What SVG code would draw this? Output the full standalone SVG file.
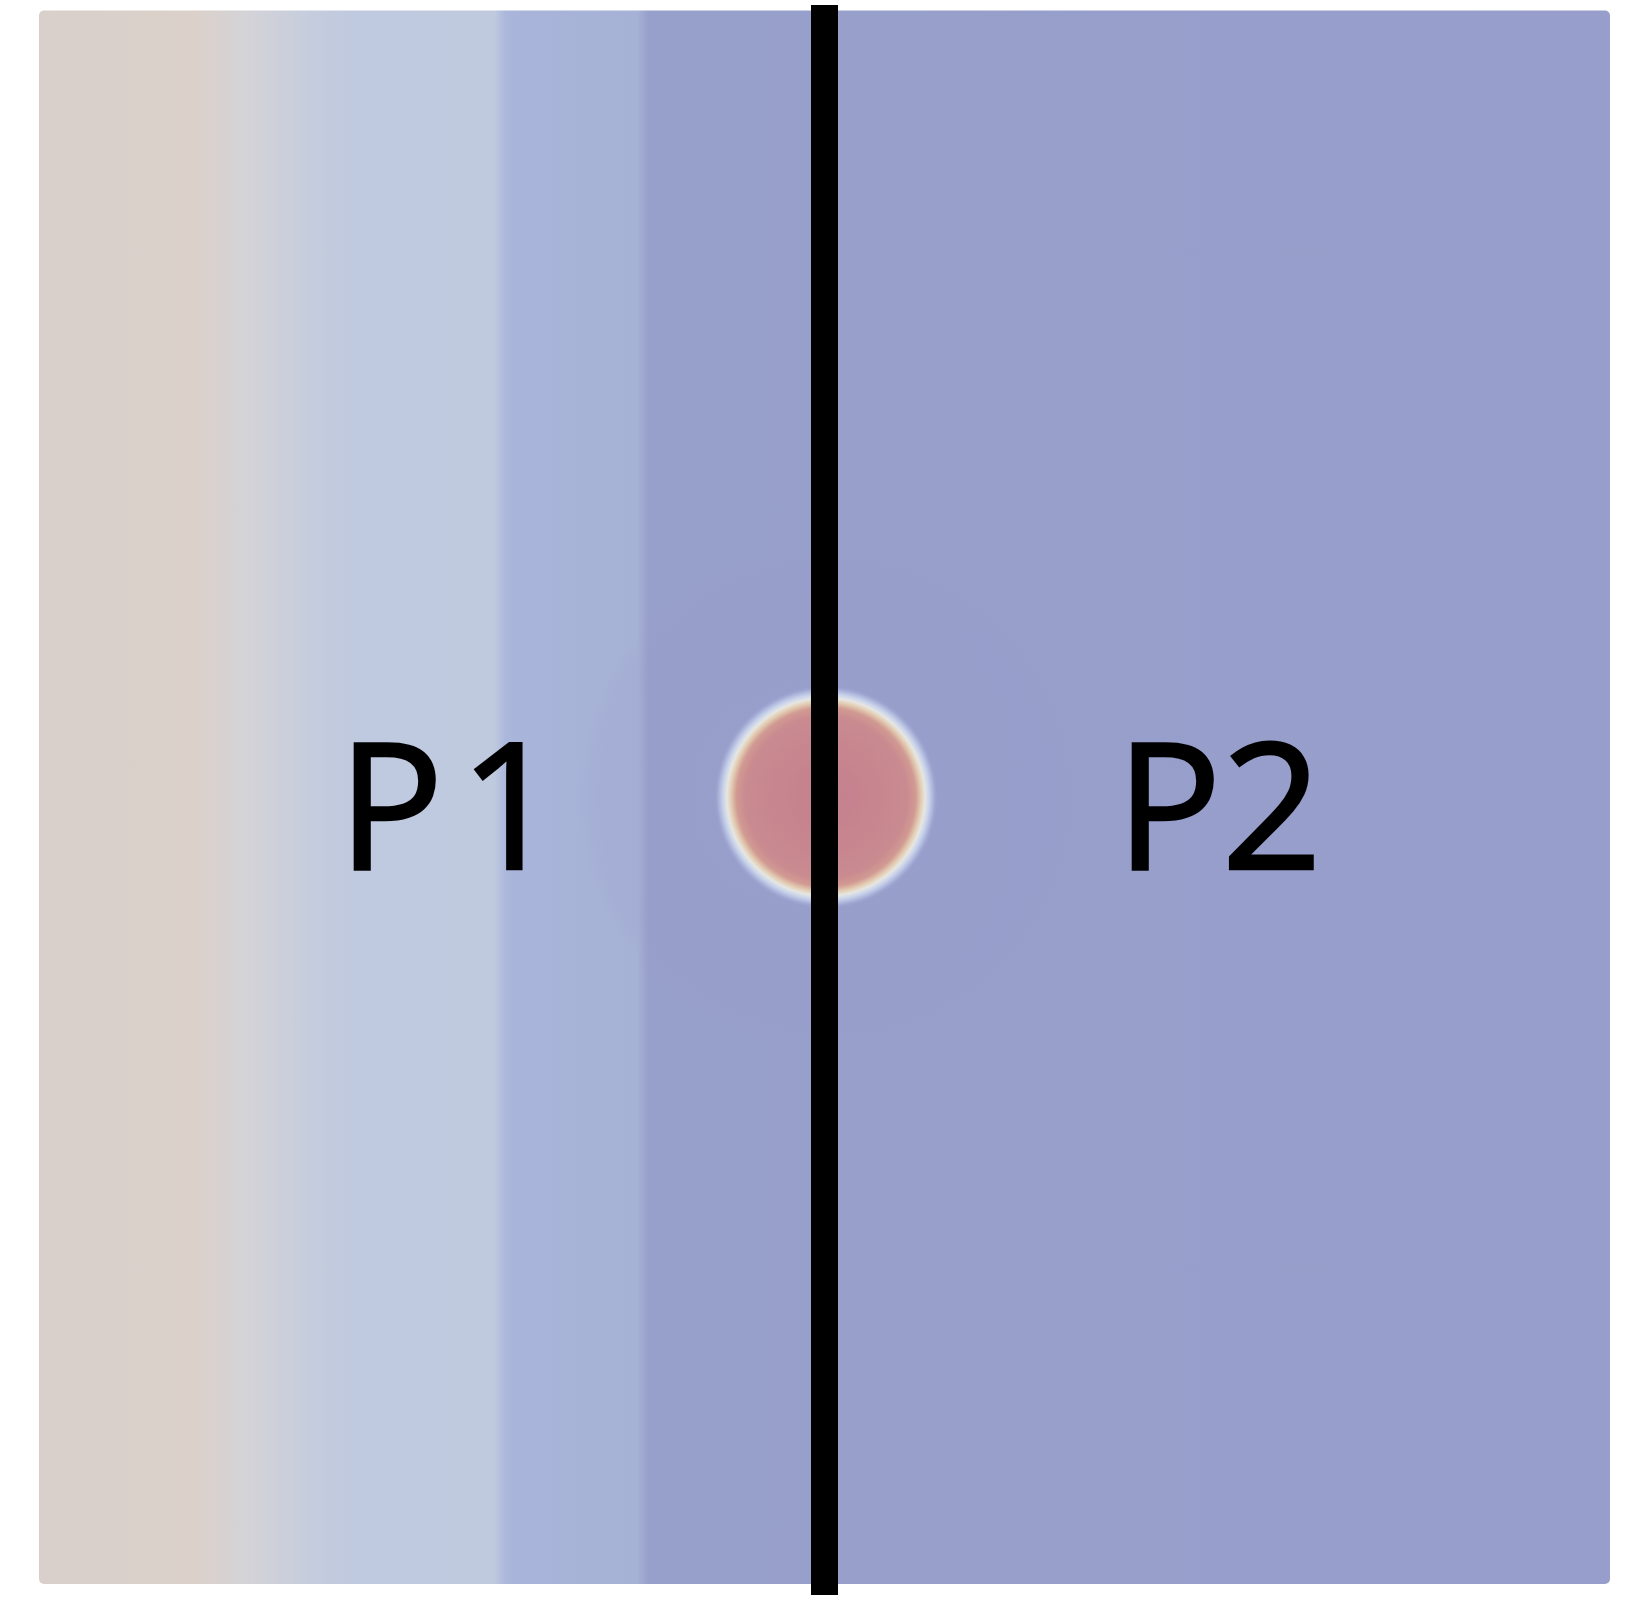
<svg xmlns="http://www.w3.org/2000/svg" width="1650" height="1610" viewBox="0 0 1650 1610">
  <style>
    .lbl { font-family: "Open Sans", "Noto Sans", "Liberation Sans", sans-serif; font-size: 176px; fill: #000; stroke: #000; stroke-width: 2.5px; text-anchor: middle; }
  </style>
  <defs>
    <linearGradient id="bg" gradientUnits="userSpaceOnUse" x1="39" y1="0" x2="1610" y2="0">
      <stop offset="0" stop-color="#d9cfcb"/>
      <stop offset="0.099" stop-color="#dbd1ca"/>
      <stop offset="0.135" stop-color="#d3d3d8"/>
      <stop offset="0.175" stop-color="#c4ccdd"/>
      <stop offset="0.205" stop-color="#bfc9df"/>
      <stop offset="0.290" stop-color="#bfcadf"/>
      <stop offset="0.297" stop-color="#abb7db"/>
      <stop offset="0.303" stop-color="#a8b4d9"/>
      <stop offset="0.381" stop-color="#a6b1d6"/>
      <stop offset="0.388" stop-color="#979fcb"/>
      <stop offset="1" stop-color="#979ecb"/>
    </linearGradient>
    <radialGradient id="halo" gradientUnits="userSpaceOnUse" cx="826" cy="797" r="250">
      <stop offset="0" stop-color="#9a9ccb" stop-opacity="0"/>
      <stop offset="0.6" stop-color="#9a9ac8" stop-opacity="0.12"/>
      <stop offset="0.9" stop-color="#9a9ac8" stop-opacity="0.15"/>
      <stop offset="1" stop-color="#9a9ac8" stop-opacity="0"/>
    </radialGradient>
    <radialGradient id="drop" gradientUnits="userSpaceOnUse" cx="826" cy="797" r="112">
      <stop offset="0" stop-color="#c47f8e"/>
      <stop offset="0.72" stop-color="#c98a90"/>
      <stop offset="0.8" stop-color="#d19a92"/>
      <stop offset="0.85" stop-color="#e3cdb3"/>
      <stop offset="0.885" stop-color="#e6e6e2"/>
      <stop offset="0.92" stop-color="#c9d3ea"/>
      <stop offset="0.96" stop-color="#a9b2d9"/>
      <stop offset="1" stop-color="#979ecb" stop-opacity="0"/>
    </radialGradient>
  </defs>
  <rect width="1650" height="1610" fill="#ffffff"/>
  <g id="domain">
    <rect x="39" y="10.5" width="1571" height="1573.5" rx="5" fill="url(#bg)"/>
    <circle cx="826" cy="797" r="250" fill="url(#halo)"/>
  </g>
  <g id="particle">
    <circle cx="826" cy="797" r="112" fill="url(#drop)"/>
  </g>
  <g id="connectors">
    <line x1="824.5" y1="5" x2="824.5" y2="1595" stroke="#000" stroke-width="27"/>
  </g>
  <g id="P1">
    <text class="lbl" x="449" y="869">P<tspan dx="16">1</tspan></text>
  </g>
  <g id="P2">
    <text class="lbl" x="1219" y="869">P2</text>
  </g>
</svg>
